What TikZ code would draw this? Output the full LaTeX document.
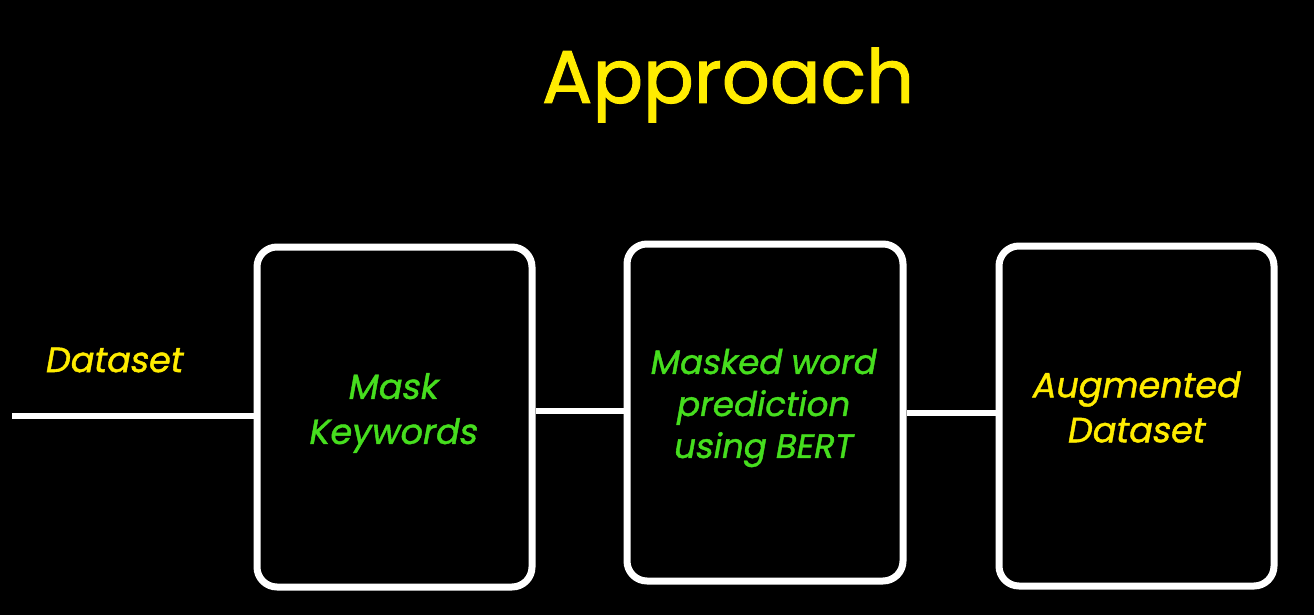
\documentclass[tikz,border=0pt]{standalone}
\usepackage{fontspec}
\setmainfont{Poppins}[FakeBold=1.3]
\newfontfamily\slantfont{Poppins}[FakeSlant=0.18,FakeBold=1.2]
\definecolor{titleyellow}{RGB}{255,236,0}
\definecolor{labelgreen}{RGB}{70,222,30}
\begin{document}
\begin{tikzpicture}[x=1pt,y=-1pt,
  stage/.style={draw=white, line width=7pt, rounded corners=20pt, fill=black, inner sep=0pt},
  wire/.style={draw=white, line width=6pt},
  boxtext/.style={font=\slantfont\fontsize{35}{45}\selectfont, align=center, inner sep=0pt},
]
\fill[black] (0,0) rectangle (1314,615);
\useasboundingbox (0,0) rectangle (1314,615);

\node[font=\fontsize{75}{80}\selectfont, text=titleyellow, inner sep=0pt] (title) at (728,85) {Approach};

\node[stage, minimum width=275pt, minimum height=340pt] (b1) at (394.5,417) {};
\node[stage, minimum width=276pt, minimum height=337pt] (b2) at (765,412.5) {};
\node[stage, minimum width=275pt, minimum height=340pt] (b3) at (1136.5,416) {};

\node[boxtext, text=labelgreen] (t1) at (392,413) {Mask\\Keywords};
\node[boxtext, text=labelgreen, font=\slantfont\fontsize{34}{42}\selectfont] (t2) at (762,408) {Masked word\\prediction\\using BERT};
\node[boxtext, text=titleyellow] (t3) at (1135,407) {Augmented\\Dataset};

\node[font=\slantfont\fontsize{35}{40}\selectfont, text=titleyellow, inner sep=0pt] (ds) at (113,360) {Dataset};

\coordinate (in) at (12,416);
\draw[wire] (in) -- (in -| b1.west);
\path ([yshift=6pt]b1.east) coordinate (c1);
\draw[wire] (c1) -- (c1 -| b2.west);
\draw[wire] (b2.east) -- (b2.east -| b3.west);
\end{tikzpicture}
\end{document}
